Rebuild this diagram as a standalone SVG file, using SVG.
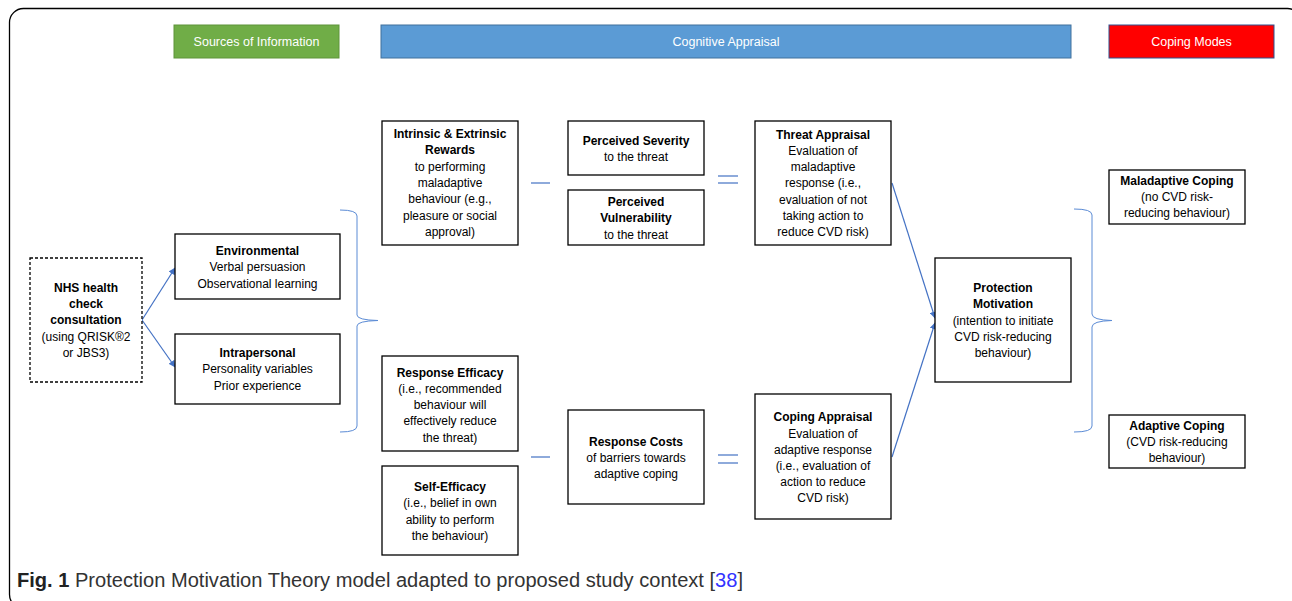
<svg xmlns="http://www.w3.org/2000/svg" width="1292" height="601" viewBox="0 0 1292 601">
<style>
.box{fill:#fff;stroke:#000;stroke-width:1.3}
.t{font-family:"Liberation Sans",Arial,sans-serif;font-size:12px;fill:#000;text-anchor:middle}
.b{font-weight:bold}
.hdr{font-family:"Liberation Sans",Arial,sans-serif;font-size:12.5px;fill:#fff;text-anchor:middle}
.con{fill:none;stroke:#4472C4;stroke-width:1.2}
.br{fill:none;stroke:#5B8BD5;stroke-width:1}
</style>
<defs>
<marker id="ah" viewBox="0 0 10 10" refX="9" refY="5" markerWidth="7" markerHeight="7" orient="auto" markerUnits="userSpaceOnUse">
<path d="M0,0 L10,5 L0,10 z" fill="#4472C4"/>
</marker>
</defs>
<rect x="9.5" y="8.5" width="1292" height="600" rx="14" fill="#fff" stroke="#000" stroke-width="1.3"/>

<g id="hdr-sources"><rect x="174" y="25" width="165" height="33" fill="#70AD47" stroke="#5E943A"/><text class="hdr" x="256.5" y="46">Sources of Information</text></g>
<g id="hdr-cognitive"><rect x="381" y="25" width="690" height="33" fill="#5B9BD5" stroke="#41719C"/><text class="hdr" x="726" y="46">Cognitive Appraisal</text></g>
<g id="hdr-coping"><rect x="1109" y="25" width="165" height="33" fill="#FF0000" stroke="#2F528F"/><text class="hdr" x="1191.5" y="46">Coping Modes</text></g>

<g id="connectors">
<line class="con" x1="142" y1="320" x2="175" y2="268" marker-end="url(#ah)"/>
<line class="con" x1="142" y1="320" x2="175" y2="367" marker-end="url(#ah)"/>
<path class="br" d="M340,210 Q357,210 357,216 L357,315 Q357,320 378,320.5 Q357,321 357,326 L357,426 Q357,432 340,432"/>
<line class="con" x1="531" y1="183" x2="550" y2="183"/>
<line class="con" x1="718" y1="176" x2="738" y2="176"/>
<line class="con" x1="718" y1="183" x2="738" y2="183"/>
<line class="con" x1="531" y1="457" x2="550" y2="457"/>
<line class="con" x1="718" y1="455" x2="738" y2="455"/>
<line class="con" x1="718" y1="463" x2="738" y2="463"/>
<line class="con" x1="892" y1="183" x2="935" y2="318" marker-end="url(#ah)"/>
<line class="con" x1="892" y1="457" x2="935" y2="323" marker-end="url(#ah)"/>
<path class="br" d="M1074,209 Q1092,209 1092,215 L1092,314 Q1092,320 1112,320.5 Q1092,321 1092,327 L1092,426 Q1092,432 1074,432"/>
</g>

<g id="nhs"><rect x="30" y="258" width="112" height="124" fill="#fff" stroke="#000" stroke-width="1.3" stroke-dasharray="3,2"/>
<text class="t b" x="86" y="292">NHS health</text><text class="t b" x="86" y="308">check</text><text class="t b" x="86" y="324">consultation</text><text class="t" x="86" y="341">(using QRISK®2</text><text class="t" x="86" y="357">or JBS3)</text></g>

<g id="environmental"><rect class="box" x="175" y="234" width="165" height="65"/>
<text class="t b" x="257.5" y="255">Environmental</text><text class="t" x="257.5" y="271">Verbal persuasion</text><text class="t" x="257.5" y="288">Observational learning</text></g>

<g id="intrapersonal"><rect class="box" x="175" y="334" width="165" height="70"/>
<text class="t b" x="257.5" y="357">Intrapersonal</text><text class="t" x="257.5" y="373">Personality variables</text><text class="t" x="257.5" y="390">Prior experience</text></g>

<g id="rewards"><rect class="box" x="382" y="121" width="136" height="124"/>
<text class="t b" x="450" y="138">Intrinsic &amp; Extrinsic</text><text class="t b" x="450" y="154">Rewards</text><text class="t" x="450" y="171">to performing</text><text class="t" x="450" y="187">maladaptive</text><text class="t" x="450" y="203">behaviour (e.g.,</text><text class="t" x="450" y="220">pleasure or social</text><text class="t" x="450" y="236">approval)</text></g>

<g id="severity"><rect class="box" x="568" y="121" width="136" height="54"/>
<text class="t b" x="636" y="145">Perceived Severity</text><text class="t" x="636" y="161">to the threat</text></g>

<g id="vulnerability"><rect class="box" x="568" y="190" width="136" height="55"/>
<text class="t b" x="636" y="206">Perceived</text><text class="t b" x="636" y="222">Vulnerability</text><text class="t" x="636" y="239">to the threat</text></g>

<g id="threat"><rect class="box" x="755" y="121" width="136" height="124"/>
<text class="t b" x="823" y="139">Threat Appraisal</text><text class="t" x="823" y="155">Evaluation of</text><text class="t" x="823" y="171">maladaptive</text><text class="t" x="823" y="187">response (i.e.,</text><text class="t" x="823" y="204">evaluation of not</text><text class="t" x="823" y="220">taking action to</text><text class="t" x="823" y="236">reduce CVD risk)</text></g>

<g id="protection"><rect class="box" x="935" y="258" width="136" height="124"/>
<text class="t b" x="1003" y="292">Protection</text><text class="t b" x="1003" y="308">Motivation</text><text class="t" x="1003" y="325">(intention to initiate</text><text class="t" x="1003" y="341">CVD risk-reducing</text><text class="t" x="1003" y="357">behaviour)</text></g>

<g id="maladaptive"><rect class="box" x="1109" y="170" width="136" height="54"/>
<text class="t b" x="1177" y="185">Maladaptive Coping</text><text class="t" x="1177" y="201">(no CVD risk-</text><text class="t" x="1177" y="217">reducing behaviour)</text></g>

<g id="adaptive"><rect class="box" x="1109" y="415" width="136" height="53"/>
<text class="t b" x="1177" y="430">Adaptive Coping</text><text class="t" x="1177" y="446">(CVD risk-reducing</text><text class="t" x="1177" y="462">behaviour)</text></g>

<g id="response-efficacy"><rect class="box" x="382" y="356" width="136" height="95"/>
<text class="t b" x="450" y="377">Response Efficacy</text><text class="t" x="450" y="393">(i.e., recommended</text><text class="t" x="450" y="409">behaviour will</text><text class="t" x="450" y="425">effectively reduce</text><text class="t" x="450" y="442">the threat)</text></g>

<g id="self-efficacy"><rect class="box" x="382" y="466" width="136" height="89"/>
<text class="t b" x="450" y="491">Self-Efficacy</text><text class="t" x="450" y="507">(i.e., belief in own</text><text class="t" x="450" y="524">ability to perform</text><text class="t" x="450" y="540">the behaviour)</text></g>

<g id="response-costs"><rect class="box" x="568" y="410" width="136" height="94"/>
<text class="t b" x="636" y="446">Response Costs</text><text class="t" x="636" y="462">of barriers towards</text><text class="t" x="636" y="478">adaptive coping</text></g>

<g id="coping"><rect class="box" x="755" y="394" width="136" height="125"/>
<text class="t b" x="823" y="421">Coping Appraisal</text><text class="t" x="823" y="438">Evaluation of</text><text class="t" x="823" y="454">adaptive response</text><text class="t" x="823" y="470">(i.e., evaluation of</text><text class="t" x="823" y="486">action to reduce</text><text class="t" x="823" y="502">CVD risk)</text></g>

<text x="17" y="587" font-family="'Liberation Sans',Arial,sans-serif" font-size="19.5" fill="#333" textLength="726" lengthAdjust="spacingAndGlyphs"><tspan font-weight="bold" fill="#222">Fig. 1</tspan> Protection Motivation Theory model adapted to proposed study context [<tspan fill="#3333FF">38</tspan>]</text>
</svg>
